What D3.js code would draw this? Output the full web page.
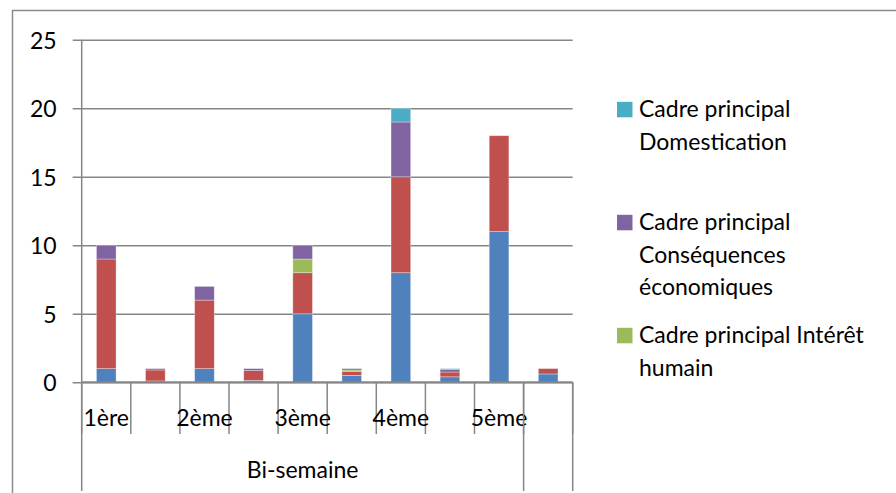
<!DOCTYPE html>
<html>
<head>
<meta charset="utf-8">
<script src="https://cdn.jsdelivr.net/npm/d3@7/dist/d3.min.js"></script>
<style>
  body { margin: 0; background: #fff; }
  text { font-family: Lato, "Open Sans", sans-serif; fill: #000; }
</style>
</head>
<body>
<div id="vis"></div>
<script>

// categories (bi-semaines), level 1 and level 2
var categories = ['1ère', '', '2ème', '', '3ème', '', '4ème', '', '5ème', ''];
var groupLabels = ['Bi-semaine', ''];
var groupSpans = [9, 1];

// series, bottom to top
var seriesNames = ['Cadre principal Attribution de responsabilité', 'Cadre principal Conflit',
	'Cadre principal Intérêt humain', 'Cadre principal Conséquences économiques', 'Cadre principal Domestication'];
var blueValues   = [1, 0.1, 1, 0.14, 5, 0.5, 8, 0.4, 11, 0.61];
var redValues    = [8, 0.8, 5, 0.72, 3, 0.3, 7, 0.35, 7, 0.39];
var greenValues  = [0, 0, 0, 0, 1, 0.1, 0, 0, 0, 0];
var purpleValues = [1, 0.1, 1, 0.14, 1, 0.1, 4, 0.2, 0, 0];
var cyanValues   = [0, 0, 0, 0, 0, 0, 1, 0.05, 0, 0];
var seriesColors = ['#4F81BD', '#C0504D', '#9BBB59', '#8064A2', '#4BACC6'];

// legend only shows what fits (top three series)
var legendEntries = [
	{ series: 4, lines: ['Cadre principal', 'Domestication'] },
	{ series: 3, lines: ['Cadre principal', 'Conséquences', 'économiques'] },
	{ series: 2, lines: ['Cadre principal Intérêt', 'humain'] }
];
var yTicks = [0, 5, 10, 15, 20, 25];

var width = 896, height = 493;
var plot = { left: 81.7, right: 572.7, top: 39.8, bottom: 382.3 };
var fontSize = '23px';

var allValues = [blueValues, redValues, greenValues, purpleValues, cyanValues];
var table = categories.map(function (c, i) {
	var row = { idx: i };
	seriesNames.forEach(function (s, k) { row[s] = allValues[k][i]; });
	return row;
});

var svg = d3.select('#vis').append('svg')
	.attr('width', width)
	.attr('height', height);

svg.append('rect')
	.attr('x', 12.5).attr('y', 10.5)
	.attr('width', 920).attr('height', 520)
	.attr('fill', 'none')
	.attr('stroke', '#8c8c8c')
	.attr('stroke-width', 1.5);

var x = d3.scaleBand()
	.domain(d3.range(categories.length))
	.range([plot.left, plot.right])
	.paddingInner(0.6)
	.paddingOuter(0.3);

var y = d3.scaleLinear()
	.domain([0, 25])
	.range([plot.bottom, plot.top]);

var step = x.step();
var axisColor = '#868686';

// gridlines + y axis
var yAxis = svg.append('g')
	.attr('transform', 'translate(' + plot.left + ',0)')
	.call(d3.axisLeft(y).tickValues(yTicks).tickSizeInner(-(plot.right - plot.left)).tickPadding(0));
yAxis.select('.domain').remove();
yAxis.selectAll('.tick line')
	.attr('x1', -9)
	.attr('stroke', axisColor)
	.attr('stroke-width', 1.6);
yAxis.selectAll('.tick text')
	.attr('x', -25)
	.attr('dy', '0.36em')
	.style('font-size', fontSize)
	.style('font-family', 'Lato, sans-serif');

// stacked bars
var stack = d3.stack().keys(seriesNames);
var layers = stack(table);

svg.append('g').selectAll('g')
	.data(layers)
	.enter().append('g')
	.attr('fill', function (d, k) { return seriesColors[k]; })
	.selectAll('rect')
	.data(function (d) { return d.filter(function (p) { return p[1] - p[0] > 0; }); })
	.enter().append('rect')
	.attr('x', function (d) { return x(d.data.idx); })
	.attr('width', x.bandwidth())
	.attr('y', function (d) { return y(d[1]); })
	.attr('height', function (d) { return y(d[0]) - y(d[1]); })
	.attr('stroke', 'rgba(255,255,255,0.4)')
	.attr('stroke-width', 0.8);

// axis lines
svg.append('line')
	.attr('x1', plot.left).attr('x2', plot.left)
	.attr('y1', plot.top).attr('y2', 491)
	.attr('stroke', axisColor).attr('stroke-width', 1.5);
svg.append('line')
	.attr('x1', plot.left).attr('x2', plot.right)
	.attr('y1', plot.bottom).attr('y2', plot.bottom)
	.attr('stroke', axisColor).attr('stroke-width', 2);

// category boundaries
var bounds = d3.range(categories.length + 1).map(function (i) { return plot.left + i * step; });
svg.append('g').selectAll('line')
	.data(bounds)
	.enter().append('line')
	.attr('x1', function (d) { return d; })
	.attr('x2', function (d) { return d; })
	.attr('y1', plot.bottom)
	.attr('y2', 434)
	.attr('stroke', axisColor)
	.attr('stroke-width', 1.5);

svg.append('g').selectAll('text')
	.data(categories)
	.enter().append('text')
	.attr('x', function (d, i) { return x(i) + x.bandwidth() / 2; })
	.attr('y', 425.5)
	.attr('text-anchor', 'middle')
	.style('font-size', fontSize)
	.text(function (d) { return d; });

// group level
var groupStart = 0;
var groups = groupLabels.map(function (g, i) {
	var o = { label: g, x0: plot.left + groupStart * step, x1: plot.left + (groupStart + groupSpans[i]) * step };
	groupStart += groupSpans[i];
	return o;
});

svg.append('g').selectAll('line')
	.data(groups)
	.enter().append('line')
	.attr('x1', function (d) { return d.x1; })
	.attr('x2', function (d) { return d.x1; })
	.attr('y1', plot.bottom)
	.attr('y2', 491)
	.attr('stroke', axisColor)
	.attr('stroke-width', 1.5);

svg.append('g').selectAll('text')
	.data(groups)
	.enter().append('text')
	.attr('x', function (d) { return (d.x0 + d.x1) / 2; })
	.attr('y', 477.5)
	.attr('text-anchor', 'middle')
	.style('font-size', fontSize)
	.text(function (d) { return d.label; });

// legend
var legend = svg.append('g').selectAll('g')
	.data(legendEntries)
	.enter().append('g')
	.attr('transform', function (d, i) { return 'translate(617,' + (117.3 + i * 113) + ')'; });

legend.append('rect')
	.attr('x', 0).attr('y', -15.5)
	.attr('width', 15.5).attr('height', 15.5)
	.attr('fill', function (d) { return seriesColors[d.series]; });

legend.selectAll('text')
	.data(function (d) { return d.lines; })
	.enter().append('text')
	.attr('x', 22)
	.attr('y', function (d, j) { return j * 32.5; })
	.style('font-size', fontSize)
	.text(function (d) { return d; });

</script>
</body>
</html>
